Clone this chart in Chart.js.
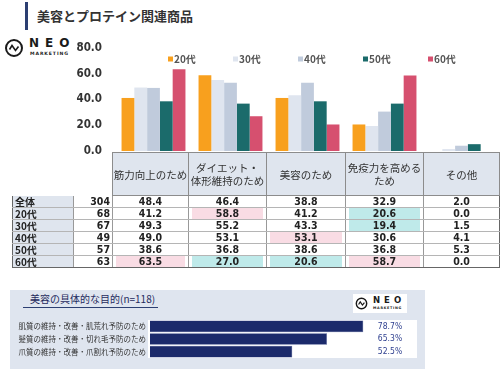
<!DOCTYPE html>
<html>
<head>
<meta charset="utf-8">
<script src="https://cdn.jsdelivr.net/npm/chart.js@4.4.0/dist/chart.umd.min.js"></script>
<style>
html, body { margin: 0; padding: 0; background: #fff; }
body { width: 500px; height: 373px; position: relative; overflow: hidden;
       font-family: "Noto Sans CJK JP", sans-serif; color: #333; }
.abs { position: absolute; }
#titleBar { left: 25px; top: 2px; width: 3px; height: 28px; background: #2c3f72; }
#title { left: 37px; top: 6px; font-size: 13px; font-weight: bold; color: #333; line-height: 20px; }
.logo .neo { position: absolute; font-family: "DejaVu Sans", sans-serif; font-weight: bold; color: #1a1a1a; }
.logo .mk { position: absolute; font-family: "DejaVu Sans", sans-serif; font-weight: bold; color: #1a1a1a; white-space: nowrap; }
#mainChart { left: 0; top: 36px; }
#tbl { left: 12px; top: 152px; border-collapse: collapse; table-layout: fixed; }
#tbl td { padding: 0; overflow: hidden; white-space: nowrap; }
#tbl .hd { background: #dfe5ee; border: 1px solid #8c8c8c; text-align: center;
           font-size: 10.5px; line-height: 13px; color: #333; height: 42px; white-space: normal; }
#tbl .blank { border: none; }
#tbl tr.row td { height: 11px; line-height: 11px; border-bottom: 1px solid #b5b5b5;
                 border-left: 1px solid #999; border-right: 1px solid #999;
                 font-family: "DejaVu Sans Condensed", "Liberation Sans Narrow", sans-serif;
                 font-weight: bold; font-size: 10.5px; color: #222; text-align: center; }
#tbl tr.row td.lab { background: #dfe5ee; text-align: left; padding-left: 2px;
                     font-family: "Noto Sans CJK JP", sans-serif; font-size: 10px; }
#tbl tr.row td.n { text-align: right; padding-right: 2px; }
#tbl tr.row td.hi { background: #f9dce4; box-shadow: inset 3px 0 #fff, inset -3px 0 #fff; }
#tbl tr.row td.lo { background: #bfeaea; box-shadow: inset 3px 0 #fff, inset -3px 0 #fff; }
#tbl tr.row:last-child td { border-bottom: 1px solid #666; }
#tbl tr.row td:first-child { border-left: 1px solid #666; }
#tbl tr.row td:last-child { border-right: 1px solid #666; }
#panel { left: 10px; top: 290px; width: 415px; height: 79px; background: #dfe5ef; }
#panelTitle { left: 30px; top: 292px; font-size: 10px; line-height: 14px; color: #1f2b5e; }
#panelLine { left: 23px; top: 307px; width: 135px; height: 1px; background: #2c3f72; }
#logo2 { left: 353px; top: 294px; width: 54px; height: 19px; background: #fff; }
#purposeChart { left: 10px; top: 318px; }
</style>
</head>
<body>
<div id="titleBar" class="abs"></div>
<div id="title" class="abs">美容とプロテイン関連商品</div>

<div id="logo1" class="abs logo" style="left:4px;top:37px;width:70px;height:22px;">
  <svg class="abs" style="left:0;top:1px" width="20" height="20" viewBox="0 0 20 20">
    <circle cx="10" cy="10" r="8" fill="none" stroke="#1a1a1a" stroke-width="2"/>
    <path d="M5.5 11.5 L8 7.5 L11.5 12.5 L14.5 8.5" fill="none" stroke="#1a1a1a" stroke-width="1.6"/>
  </svg>
  <div class="neo" style="left:25px;top:-1px;font-size:12px;letter-spacing:6px;">NEO</div>
  <div class="mk" style="left:26px;top:14px;font-size:4.6px;letter-spacing:0.9px;">MARKETING</div>
</div>

<canvas id="mainChart" class="abs" width="500" height="124"></canvas>
<table id="tbl" class="abs"></table>

<div id="panel" class="abs"></div>
<div id="panelTitle" class="abs">美容の具体的な目的(n=118)</div>
<div id="panelLine" class="abs"></div>
<div id="logo2" class="abs logo">
  <svg class="abs" style="left:2px;top:3px" width="13" height="13" viewBox="0 0 20 20">
    <circle cx="10" cy="10" r="8" fill="none" stroke="#1a1a1a" stroke-width="2.2"/>
    <path d="M5.5 11.5 L8 7.5 L11.5 12.5 L14.5 8.5" fill="none" stroke="#1a1a1a" stroke-width="1.8"/>
  </svg>
  <div class="neo" style="left:20px;top:1px;font-size:8.5px;letter-spacing:4px;">NEO</div>
  <div class="mk" style="left:20px;top:12px;font-size:3.4px;letter-spacing:0.7px;">MARKETING</div>
</div>
<canvas id="purposeChart" class="abs" width="415" height="42"></canvas>

<script>
// 目的別 (複数回答, %)
const categories = [
    ["筋力向上のため"],
    ["ダイエット・", "体形維持のため"],
    ["美容のため"],
    ["免疫力を高める", "ため"],
    ["その他"],
];
const ageGroups = ["20代", "30代", "40代", "50代", "60代"];
const ageColors = ["#f8a01e", "#dfe5ef", "#c0cbdc", "#1b6b6b", "#d6506f"];
const sampleSizes = [68, 67, 49, 57, 63];
const totalN = 304;
const totalValues = [48.4, 46.4, 38.8, 32.9, 2.0];
const age20 = [41.2, 58.8, 41.2, 20.6, 0.0];
const age30 = [49.3, 55.2, 43.3, 19.4, 1.5];
const age40 = [49.0, 53.1, 53.1, 30.6, 4.1];
const age50 = [38.6, 36.8, 38.6, 36.8, 5.3];
const age60 = [63.5, 27.0, 20.6, 58.7, 0.0];
const ageValues = [age20, age30, age40, age50, age60];
const yTicks = [0, 20, 40, 60, 80];

// 美容の具体的な目的 (n=118)
const purposeLabels = [
    "肌質の維持・改善・肌荒れ予防のため",
    "髪質の維持・改善・切れ毛予防のため",
    "爪質の維持・改善・爪割れ予防のため",
];
const purposeValues = [78.7, 65.3, 52.5];

const numFont = '"DejaVu Sans Condensed", "Liberation Sans Narrow", sans-serif';

const legendInside = {
    id: "legendInside",
    afterDraw(chart) {
        const { ctx, chartArea } = chart;
        ctx.save();
        ctx.font = 'bold 10px "Noto Sans CJK JP"';
        ctx.textBaseline = "middle";
        chart.data.datasets.forEach((ds, i) => {
            const x = chartArea.left + 53 + i * 65;
            const y = chartArea.top + 11;
            ctx.fillStyle = ds.backgroundColor;
            ctx.fillRect(x, y - 2.5, 5, 5);
            ctx.fillStyle = "#555";
            ctx.fillText(ds.label, x + 6, y);
        });
        ctx.restore();
    },
};

new Chart(document.getElementById("mainChart"), {
    type: "bar",
    data: {
        labels: categories.map((c) => c.join("")),
        datasets: ageGroups.map((g, i) => ({
            label: g,
            data: ageValues[i],
            backgroundColor: ageColors[i],
            categoryPercentage: 0.83,
            barPercentage: 1.0,
        })),
    },
    options: {
        responsive: false,
        animation: false,
        layout: { padding: { top: 12, bottom: 9, left: 0, right: 0 } },
        plugins: { legend: { display: false }, tooltip: { enabled: false } },
        scales: {
            x: { display: false },
            y: {
                min: 0,
                max: 80,
                afterFit: (s) => { s.width = 115; s.paddingTop = 0; s.paddingBottom = 0; },
                afterBuildTicks: (s) => { s.ticks = yTicks.map((v) => ({ value: v })); },
                grid: { display: false, drawTicks: false },
                border: { display: false },
                ticks: {
                    padding: 13,
                    color: "#333",
                    font: { family: numFont, size: 11.5, weight: "bold" },
                    callback: (v) => Number(v).toFixed(1),
                },
            },
        },
    },
    plugins: [legendInside],
});

// 表
const tbl = document.getElementById("tbl");
const colWidths = [61, 39, 76, 78, 79, 78, 76];
let html = "<colgroup>" + colWidths.map((w) => `<col style="width:${w}px">`).join("") + "</colgroup>";
html += '<tr><td class="blank"></td><td class="blank"></td>' +
    categories.map((c) => `<td class="hd">${c.join("<br>")}</td>`).join("") + "</tr>";
const rowLabels = ["全体"].concat(ageGroups);
const rowNs = [totalN].concat(sampleSizes);
const rowVals = [totalValues].concat(ageValues);
rowLabels.forEach((lab, r) => {
    html += `<tr class="row"><td class="lab">${lab}</td><td class="n">${rowNs[r]}</td>`;
    rowVals[r].forEach((v, c) => {
        let cls = "";
        if (r > 0 && v >= totalValues[c] + 10) cls = "hi";
        if (r > 0 && v <= totalValues[c] - 10) cls = "lo";
        html += `<td class="${cls}">${v.toFixed(1)}</td>`;
    });
    html += "</tr>";
});
tbl.innerHTML = html;

// 下段: 美容の具体的な目的
const plotBg = {
    id: "plotBg",
    beforeDraw(chart) {
        const { ctx, chartArea: a } = chart;
        ctx.save();
        ctx.fillStyle = "#fff";
        ctx.fillRect(a.left - 2, a.top, a.right - a.left - 2, a.bottom - a.top);
        ctx.restore();
    },
    afterDatasetsDraw(chart) {
        const { ctx, chartArea: a } = chart;
        const meta = chart.getDatasetMeta(0);
        ctx.save();
        ctx.font = "8.5px " + numFont;
        ctx.fillStyle = "#2e3f8f";
        ctx.textAlign = "center";
        ctx.textBaseline = "middle";
        meta.data.forEach((bar, i) => {
            ctx.fillText(purposeValues[i].toFixed(1) + "%", a.right - 31, bar.y);
        });
        ctx.restore();
    },
};

new Chart(document.getElementById("purposeChart"), {
    type: "bar",
    data: {
        labels: purposeLabels,
        datasets: [{
            data: purposeValues,
            backgroundColor: "#1b2a6b",
            borderColor: "#3a4a8a",
            borderWidth: 0.5,
            categoryPercentage: 1.0,
            barPercentage: 0.92,
        }],
    },
    options: {
        indexAxis: "y",
        responsive: false,
        animation: false,
        layout: { padding: { top: 2, bottom: 2, left: 0, right: 4 } },
        plugins: { legend: { display: false }, tooltip: { enabled: false } },
        scales: {
            x: { display: false, min: 0, max: 100 },
            y: {
                afterFit: (s) => { s.width = 140; s.paddingTop = 0; s.paddingBottom = 0; },
                grid: { display: false, drawTicks: false },
                border: { display: false },
                ticks: {
                    padding: 4,
                    color: "#333",
                    font: { family: "Noto Sans CJK JP", size: 7.5 },
                },
            },
        },
    },
    plugins: [plotBg],
});
</script>
</body>
</html>
